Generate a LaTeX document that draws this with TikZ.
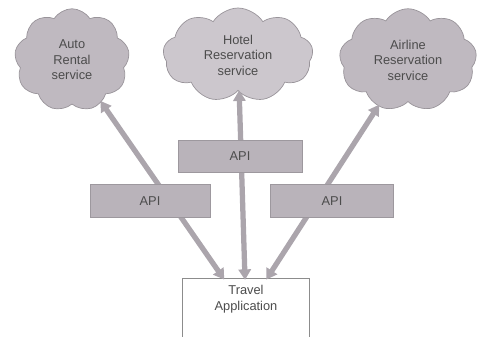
\documentclass[tikz,border=0pt]{standalone}
\usepackage{fontspec}
\setmainfont{Liberation Sans}
\usetikzlibrary{shapes.symbols,arrows.meta}
\definecolor{cloudgrey}{HTML}{BFB9C0}
\definecolor{boxgrey}{HTML}{B9B3BA}
\definecolor{linkgrey}{HTML}{ABA5AC}
\begin{document}
\begin{tikzpicture}[x=0.02cm,y=-0.02cm,
		service/.style={cloud, cloud puffs=9, cloud puff arc=115, aspect=1.2, fill=cloudgrey, draw=cloudgrey!80!black, line width=0.4pt, inner sep=0pt, align=center, text=black!70, font=\fontsize{7.3}{8.8}\selectfont},
		apibox/.style={rectangle, fill=boxgrey, draw=boxgrey!85!black, line width=0.3pt, text=black!70, font=\fontsize{7.3}{8.8}\selectfont},
		link/.style={{Triangle[length=6pt,width=7pt]}-{Triangle[length=6pt,width=7pt]}, linkgrey, line width=3pt, shorten <=-1pt, shorten >=-1pt}]
				\useasboundingbox (0,0) rectangle (477,337);
				\clip (0,0) rectangle (477,337);
				\node[service, minimum width=2.3cm, minimum height=2.05cm] (auto) at (72,60) {Auto\\Rental\\service};
				\node[service, minimum width=3.0cm, minimum height=1.85cm, fill=cloudgrey!80] (hotel) at (238,55) {Hotel\\Reservation\\service};
				\node[service, minimum width=2.75cm, minimum height=2.05cm] (airline) at (408,60) {Airline\\Reservation\\service};
				\node[rectangle, draw=black!45, fill=white, line width=0.4pt, minimum width=2.54cm, minimum height=1.3cm, text=black!70, align=center, font=\fontsize{7.3}{9}\selectfont] (travel) at (246,311) {Travel\\Application\\[6pt]};
				\draw[link] (auto) -- (travel);
				\draw[link] (hotel) -- (travel);
				\draw[link] (airline) -- (travel);
				\node[apibox, minimum width=2.48cm, minimum height=0.64cm] (apimid) at (240,156) {API};
				\node[apibox, minimum width=2.4cm, minimum height=0.66cm] (apileft) at (150,201) {API};
				\node[apibox, minimum width=2.46cm, minimum height=0.66cm] (apiright) at (332,201) {API};
			\end{tikzpicture}
\end{document}
